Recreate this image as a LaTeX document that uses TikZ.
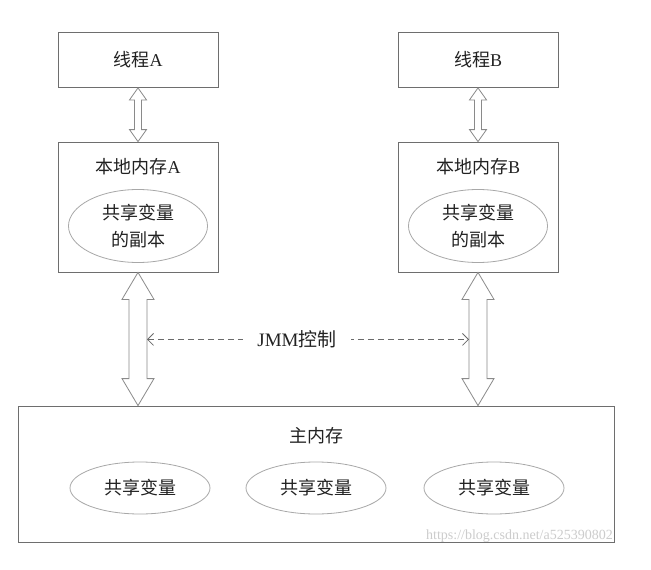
\documentclass[tikz,border=0pt]{standalone}
\usepackage{fontspec}
\setmainfont{Liberation Serif}
\newfontfamily\cjk{Noto Sans CJK SC}
\usetikzlibrary{calc,arrows.meta,shapes.geometric}
\definecolor{boxgray}{HTML}{6E6E6E}
\definecolor{ellgray}{HTML}{A8A8A8}
\definecolor{arrgray}{HTML}{8A8A8A}
\definecolor{dashgray}{HTML}{6A6A6A}
\definecolor{txt}{HTML}{222222}
\newcommand\dblarr[5]{%
  \draw[arr] (#1) -- ($(#1)+(#4,#5)$) -- ($(#1)+(#3,#5)$) -- ($(#2)+(#3,-#5)$)
    -- ($(#2)+(#4,-#5)$) -- (#2) -- ($(#2)+(-#4,-#5)$) -- ($(#2)+(-#3,-#5)$)
    -- ($(#1)+(-#3,#5)$) -- ($(#1)+(-#4,#5)$) -- cycle;}
\begin{document}
\begin{tikzpicture}[x=1pt,y=-1pt,
  box/.style={draw=boxgray, line width=0.8pt, inner sep=0pt},
  ell/.style={ellipse, draw=ellgray, line width=0.8pt, inner sep=0pt, align=center,
    text=txt, font=\cjk\fontsize{18}{27}\selectfont},
  lbl/.style={text=txt, inner sep=0pt, font=\fontsize{18}{27}\selectfont},
  arr/.style={draw=arrgray, line width=0.8pt, line join=miter, fill=white},
  jmm/.style={draw=dashgray, line width=0.8pt, dash pattern=on 6pt off 4pt,
    {Straight Barb[length=6pt,width=12pt]}-{Straight Barb[length=6pt,width=12pt]}},
  wm/.style={text=black!20, inner sep=0pt, font=\fontsize{14}{16}\selectfont}]
\useasboundingbox[fill=white] (0,0) rectangle (651,570);

% thread boxes
\node[box, minimum width=160pt, minimum height=55pt] (ta) at (138,60) {};
\node[lbl] (tal) at (ta.center) {{\cjk 线程}A};
\node[box, minimum width=160pt, minimum height=55pt] (tb) at (478,60) {};
\node[lbl] (tbl) at (tb.center) {{\cjk 线程}B};

% local memory boxes
\node[box, minimum width=160pt, minimum height=130pt] (la) at (138,207) {};
\node[lbl] (lal) at (138,167) {{\cjk 本地内存}A};
\node[ell, minimum width=139pt, minimum height=73pt] (ea) at (138,226) {共享变量\\的副本};
\node[box, minimum width=160pt, minimum height=130pt] (lb) at (478,207) {};
\node[lbl] (lbl) at (478,167) {{\cjk 本地内存}B};
\node[ell, minimum width=139pt, minimum height=73pt] (eb) at (478,226) {共享变量\\的副本};

% main memory
\node[box, minimum width=596pt, minimum height=136pt] (mm) at (316,474) {};
\node[lbl] (mml) at (316,436) {\cjk 主内存};
\node[ell, minimum width=140pt, minimum height=52pt] (v1) at (140,488) {共享变量};
\node[ell, minimum width=140pt, minimum height=52pt] (v2) at (316,488) {共享变量};
\node[ell, minimum width=140pt, minimum height=52pt] (v3) at (494,488) {共享变量};

% double arrows
\dblarr{ta.south}{la.north}{3.5}{8.5}{12}
\dblarr{tb.south}{lb.north}{3.5}{8.5}{12}
\coordinate (amb) at (la.south |- mm.north);
\coordinate (bmb) at (lb.south |- mm.north);
\dblarr{la.south}{amb}{9}{16}{27}
\dblarr{lb.south}{bmb}{9}{16}{27}

% JMM control
\coordinate (jl) at ($(la.south)+(9,67)$);
\coordinate (jr) at ($(lb.south)+(-9,67)$);
\draw[jmm] (jl) -- (jr) node[pos=0.466, fill=white, text=txt, inner xsep=14pt, inner ysep=2pt,
  font=\fontsize{19}{27}\selectfont] (jt) {JMM{\cjk 控制}};

% watermark
\node[wm, anchor=east] (wmk) at (613,536) {https://blog.csdn.net/a525390802};
\end{tikzpicture}
\end{document}
